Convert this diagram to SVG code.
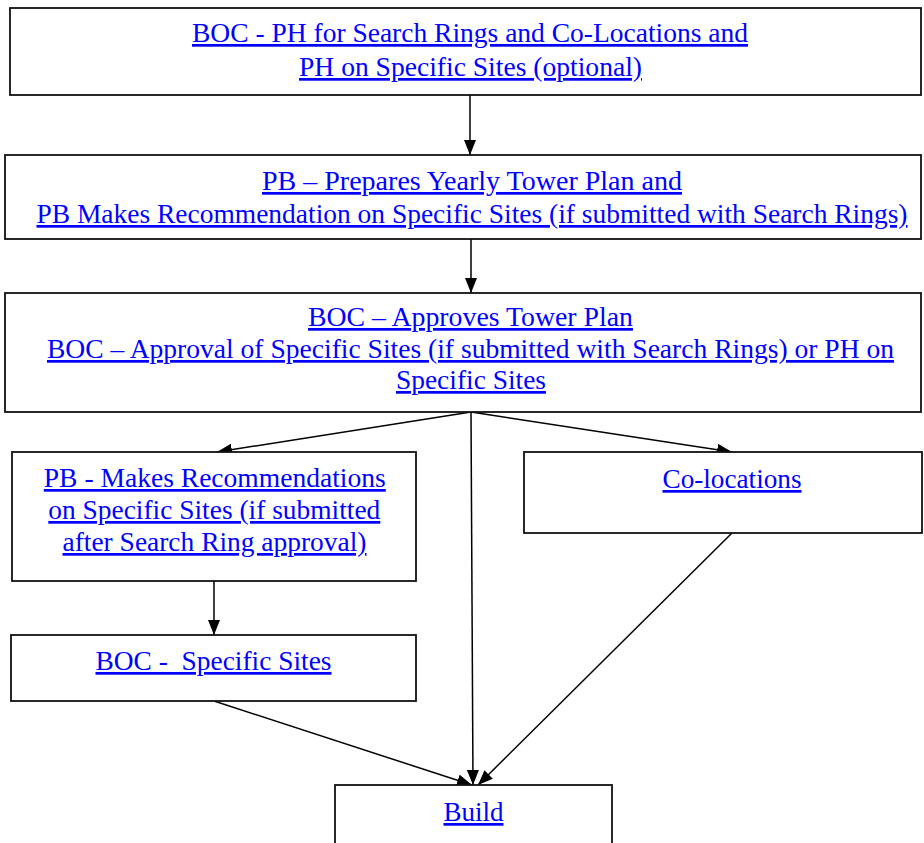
<svg xmlns="http://www.w3.org/2000/svg" width="924" height="843" viewBox="0 0 924 843">
<style>
.box{fill:#fff;stroke:#111;stroke-width:1.8}
.t{font-family:"Liberation Serif","Times New Roman",serif;font-size:27px;fill:#0000ff;text-decoration:underline;text-anchor:middle;white-space:pre}
.c{stroke:#000;stroke-width:1.5;fill:none;marker-end:url(#ah)}
</style>
<defs>
<marker id="ah" markerUnits="userSpaceOnUse" markerWidth="15" markerHeight="12" refX="15" refY="6" orient="auto" viewBox="0 0 15 12">
<path d="M0,0 L15,6 L0,12 z" fill="#000"/>
</marker>
</defs>
<rect width="924" height="843" fill="#fff"/>
<g id="connectors">
<line class="c" x1="470" y1="95" x2="470" y2="155"/>
<line class="c" x1="471" y1="239" x2="471" y2="293"/>
<line class="c" x1="471" y1="412" x2="217" y2="452"/>
<line class="c" x1="471" y1="412" x2="732" y2="452"/>
<line class="c" x1="471" y1="412" x2="473" y2="785"/>
<line class="c" x1="214" y1="581" x2="214" y2="635"/>
<line class="c" x1="214" y1="701" x2="472" y2="785"/>
<line class="c" x1="732" y1="533" x2="478" y2="785"/>
</g>
<g id="n1">
<rect class="box" x="10" y="8" width="911" height="87"/>
<text class="t" x="470" y="42" textLength="556" lengthAdjust="spacingAndGlyphs">BOC - PH for Search Rings and Co-Locations and</text>
<text class="t" x="470.5" y="76" textLength="343" lengthAdjust="spacingAndGlyphs">PH on Specific Sites (optional)</text>
</g>
<g id="n2">
<rect class="box" x="5" y="155" width="916" height="84"/>
<text class="t" x="472" y="190" textLength="420" lengthAdjust="spacingAndGlyphs">PB – Prepares Yearly Tower Plan and</text>
<text class="t" x="472" y="223" textLength="871" lengthAdjust="spacingAndGlyphs">PB Makes Recommendation on Specific Sites (if submitted with Search Rings)</text>
</g>
<g id="n3">
<rect class="box" x="5" y="293" width="916" height="119"/>
<text class="t" x="470.5" y="326" textLength="325" lengthAdjust="spacingAndGlyphs">BOC – Approves Tower Plan</text>
<text class="t" x="470.5" y="358" textLength="847" lengthAdjust="spacingAndGlyphs">BOC – Approval of Specific Sites (if submitted with Search Rings) or PH on</text>
<text class="t" x="471" y="389" textLength="150" lengthAdjust="spacingAndGlyphs">Specific Sites</text>
</g>
<g id="n4">
<rect class="box" x="12" y="452" width="404" height="129"/>
<text class="t" x="214.8" y="487" textLength="342" lengthAdjust="spacingAndGlyphs">PB - Makes Recommendations</text>
<text class="t" x="214.3" y="519" textLength="332" lengthAdjust="spacingAndGlyphs">on Specific Sites (if submitted</text>
<text class="t" x="214.5" y="551" textLength="304" lengthAdjust="spacingAndGlyphs">after Search Ring approval)</text>
</g>
<g id="n5">
<rect class="box" x="11" y="635" width="405" height="66"/>
<text class="t" x="213.5" y="670" textLength="236" lengthAdjust="spacingAndGlyphs">BOC -  Specific Sites</text>
</g>
<g id="n6">
<rect class="box" x="524" y="452" width="398" height="81"/>
<text class="t" x="732" y="488" textLength="139" lengthAdjust="spacingAndGlyphs">Co-locations</text>
</g>
<g id="n7">
<rect class="box" x="335" y="785" width="277" height="70"/>
<text class="t" x="473.5" y="821" textLength="60" lengthAdjust="spacingAndGlyphs">Build</text>
</g>
</svg>
